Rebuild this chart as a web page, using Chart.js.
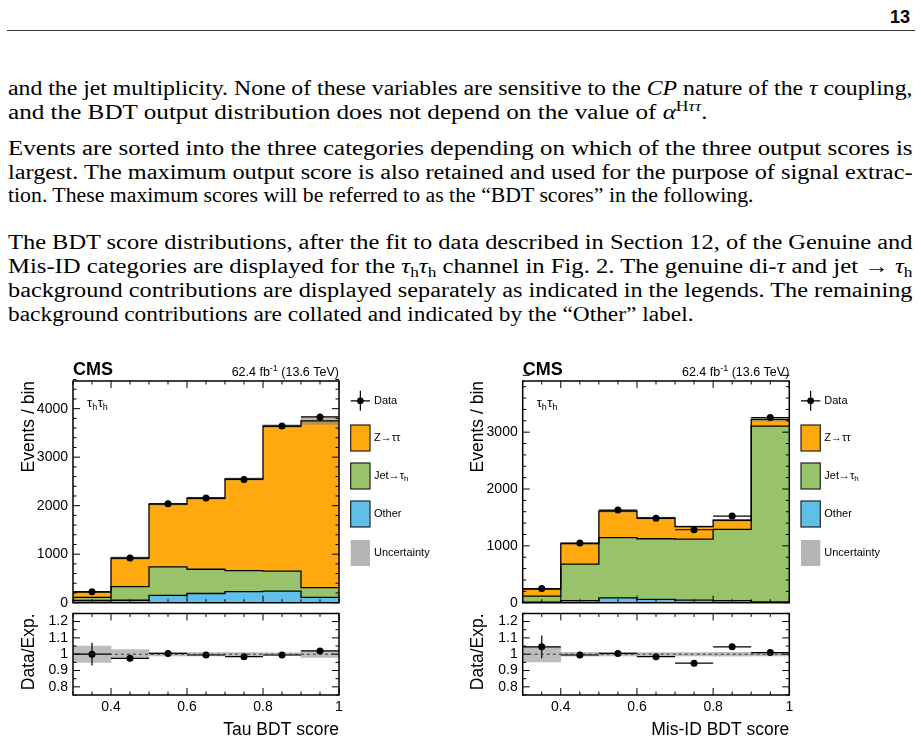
<!DOCTYPE html>
<html>
<head>
<meta charset="utf-8">
<script src="https://cdn.jsdelivr.net/npm/chart.js@4.4.1/dist/chart.umd.min.js"></script>
<style>
  html, body { margin: 0; padding: 0; background: #fff; }
  #page { position: relative; width: 921px; height: 742px; overflow: hidden; background: #fff; }
  .ln { position: absolute; left: 7.5px; font: 20px/24px "Liberation Serif", serif; color: #000; white-space: nowrap; transform-origin: 0 0; }
  .sb { font-size: 14px; position: relative; top: 4px; font-style: normal; }
  .sp { font-size: 14px; position: relative; top: -8px; }
  #pno { position: absolute; right: 11px; top: 7.8px; font: bold 18px/18px "Liberation Sans", sans-serif; }
  #rule { position: absolute; left: 7px; top: 30px; width: 908px; height: 0; border-top: 1.3px solid #333; }
  canvas { position: absolute; }
</style>
</head>
<body>
<div id="page">
  <div id="pno">13</div>
  <div id="rule"></div>

  <div class="ln" data-w="904.5" style="top:76.2px"><span>and the jet multiplicity. None of these variables are sensitive to the <i>CP</i> nature of the <i>τ</i> coupling,</span></div>
  <div class="ln" data-w="699.5" style="top:100.2px"><span>and the BDT output distribution does not depend on the value of <i>α</i><span class="sp">H<i>ττ</i></span>.</span></div>

  <div class="ln" data-w="904.5" style="top:136.2px"><span>Events are sorted into the three categories depending on which of the three output scores is</span></div>
  <div class="ln" data-w="904.5" style="top:159.7px"><span>largest. The maximum output score is also retained and used for the purpose of signal extrac-</span></div>
  <div class="ln" data-w="745.5" style="top:183.2px"><span>tion. These maximum scores will be referred to as the “BDT scores” in the following.</span></div>

  <div class="ln" data-w="904.5" style="top:230.2px"><span>The BDT score distributions, after the fit to data described in Section 12, of the Genuine and</span></div>
  <div class="ln" data-w="904.5" style="top:254.2px"><span>Mis-ID categories are displayed for the <i>τ</i><span class="sb">h</span><i>τ</i><span class="sb">h</span> channel in Fig. 2. The genuine di-<i>τ</i> and jet → <i>τ</i><span class="sb">h</span></span></div>
  <div class="ln" data-w="904.5" style="top:278.2px"><span>background contributions are displayed separately as indicated in the legends. The remaining</span></div>
  <div class="ln" data-w="685.5" style="top:301.7px"><span>background contributions are collated and indicated by the “Other” label.</span></div>

  <canvas id="tauMain" width="460" height="280" style="left:0px;top:350px"></canvas>
  <canvas id="tauRatio" width="460" height="142" style="left:0px;top:600px"></canvas>
  <canvas id="misMain" width="461" height="280" style="left:460px;top:350px"></canvas>
  <canvas id="misRatio" width="461" height="142" style="left:460px;top:600px"></canvas>
</div>

<script>
// ---- data ----
const bdtEdges = [0.3, 0.4, 0.5, 0.6, 0.7, 0.8, 0.9, 1.0];
const xTickVals = [0.4, 0.6, 0.8, 1.0];

// Genuine category, Tau BDT score
const tauOther = [45, 50, 150, 190, 230, 240, 110];
const tauJet   = [65, 280, 590, 500, 430, 410, 200];
const tauZtt   = [115, 590, 1290, 1460, 1890, 2990, 3440];
const tauData  = [225, 920, 2040, 2160, 2540, 3640, 3830];
const tauUnc   = [0.05, 0.028, 0.01, 0.01, 0.01, 0.008, 0.02];
const tauRatio = [1.0, 0.975, 1.005, 0.995, 0.985, 0.995, 1.02];
const tauRatioErr = [0.07, 0.02, 0.01, 0.01, 0.01, 0.01, 0.01];
const tauYTicks = [0, 1000, 2000, 3000, 4000];

// Mis-ID category, Mis-ID BDT score
const misOther = [10, 35, 85, 60, 45, 35, 15];
const misJet   = [105, 645, 1060, 1065, 1075, 1255, 3090];
const misZtt   = [125, 360, 465, 365, 220, 160, 120];
const misData  = [250, 1050, 1630, 1485, 1283, 1524, 3258];
const misUnc   = [0.048, 0.012, 0.01, 0.01, 0.01, 0.012, 0.01];
const misRatio = [1.045, 0.995, 1.005, 0.985, 0.945, 1.045, 1.01];
const misRatioErr = [0.07, 0.02, 0.015, 0.015, 0.01, 0.015, 0.01];
const misYTicks = [0, 1000, 2000, 3000];

const ratioYTicks = [0.8, 0.9, 1.0, 1.1, 1.2];
const legendLabels = ['Data', 'Z→ττ', 'Jet→τ_h', 'Other', 'Uncertainty'];

const colZtt = '#ffa90e';
const colJet = '#99c36b';
const colOther = '#5fbfe9';
const colUnc = '#b5b5b5';

// stretch each text line to its width in the page
document.querySelectorAll('.ln').forEach(el => {
  const nat = el.firstElementChild.getBoundingClientRect().width;
  const w = parseFloat(el.dataset.w);
  el.style.transform = 'scaleX(' + (w / nat) + ')';
});

Chart.defaults.font.family = '"Liberation Sans", Arial, sans-serif';
Chart.defaults.color = '#000';

function centers(edges) {
  return edges.slice(0, -1).map((e, i) => (e + edges[i + 1]) / 2);
}
const binCenters = centers(bdtEdges);

// step histogram points: one per bin edge, last edge repeats last bin
function steps(vals) {
  return bdtEdges.map((e, i) => ({ x: e, y: vals[Math.min(i, vals.length - 1)] }));
}

function fmt(v) { return String(+v.toFixed(1)); }

// frame, inward ticks on all sides, axis titles
function decor(cfg) {
  return {
    id: 'decor',
    afterDatasetsDraw(chart) {
      const ctx = chart.ctx;
      const a = chart.chartArea;
      const xs = chart.scales.x, ys = chart.scales.y;
      const L = a.left, R = a.right, T = a.top, B = a.bottom;
      ctx.save();
      ctx.globalAlpha = 1;
      ctx.setLineDash([]);
      ctx.strokeStyle = '#000000';
      ctx.lineWidth = 1;
      ctx.beginPath();
      for (let k = 0; k <= 14; k++) {
        const v = 0.3 + k * 0.05;
        const px = xs.getPixelForValue(v);
        const major = xTickVals.some(t => Math.abs(t - v) < 1e-6);
        const len = major ? 7 : 3.5;
        ctx.moveTo(px, B); ctx.lineTo(px, B - len);
        ctx.moveTo(px, T); ctx.lineTo(px, T + len);
      }
      const nMin = Math.round((cfg.yEnd - cfg.yStart) / cfg.yMinor);
      for (let k = 0; k <= nMin; k++) {
        const v = cfg.yStart + k * cfg.yMinor;
        const py = ys.getPixelForValue(v);
        const r = v / cfg.yMajor;
        const major = Math.abs(r - Math.round(r)) < 1e-6;
        const len = major ? 7 : 3.5;
        ctx.moveTo(L, py); ctx.lineTo(L + len, py);
        ctx.moveTo(R, py); ctx.lineTo(R - len, py);
      }
      ctx.stroke();
      if (cfg.dashAtOne) {
        const py = ys.getPixelForValue(1);
        ctx.strokeStyle = '#333';
        ctx.setLineDash([3, 3]);
        ctx.beginPath();
        ctx.moveTo(L, py); ctx.lineTo(R, py);
        ctx.stroke();
        ctx.setLineDash([]);
      }
      ctx.strokeStyle = '#000000';
      ctx.lineWidth = 1.5;
      ctx.beginPath();
      ctx.moveTo(L, T); ctx.lineTo(R, T); ctx.lineTo(R, B); ctx.lineTo(L, B); ctx.closePath();
      ctx.stroke();
      ctx.restore();
    },
    afterDraw(chart) {
      const ctx = chart.ctx;
      const a = chart.chartArea;
      ctx.save();
      ctx.fillStyle = '#000';
      ctx.font = '17.5px "Liberation Sans"';
      ctx.save();
      ctx.translate(a.left - 39.5, a.top);
      ctx.rotate(-Math.PI / 2);
      ctx.textAlign = 'right';
      ctx.textBaseline = 'alphabetic';
      ctx.fillText(cfg.yTitle, 0, 0);
      ctx.restore();
      if (cfg.xTitle) {
        ctx.textAlign = 'right';
        ctx.textBaseline = 'alphabetic';
        ctx.fillText(cfg.xTitle, a.right, a.bottom + 40);
      }
      ctx.restore();
    }
  };
}

// data bin-width bars and vertical error bars
function errBars(vals, errs) {
  return {
    id: 'errbars',
    afterDatasetsDraw(chart) {
      const { ctx } = chart;
      const xs = chart.scales.x, ys = chart.scales.y;
      ctx.save();
      ctx.strokeStyle = '#000';
      ctx.lineWidth = 1.2;
      ctx.beginPath();
      vals.forEach((v, i) => {
        const py = ys.getPixelForValue(v);
        ctx.moveTo(xs.getPixelForValue(bdtEdges[i]), py);
        ctx.lineTo(xs.getPixelForValue(bdtEdges[i + 1]), py);
        if (errs) {
          const px = xs.getPixelForValue(binCenters[i]);
          ctx.moveTo(px, ys.getPixelForValue(v - errs[i]));
          ctx.lineTo(px, ys.getPixelForValue(v + errs[i]));
        }
      });
      ctx.stroke();
      ctx.restore();
    }
  };
}

function drawSubText(ctx, text, x, y, size) {
  // "A_h" -> A with subscript h
  const parts = text.split('_');
  ctx.font = size + 'px "Liberation Sans"';
  ctx.fillText(parts[0], x, y);
  if (parts[1]) {
    const w = ctx.measureText(parts[0]).width;
    ctx.font = Math.round(size * 0.7) + 'px "Liberation Sans"';
    ctx.fillText(parts[1], x + w, y + size * 0.28);
  }
}

// CMS label, lumi, channel label and legend
function header() {
  return {
    id: 'header',
    afterDraw(chart) {
      const { ctx, chartArea: a } = chart;
      ctx.save();
      ctx.fillStyle = '#000';
      ctx.textBaseline = 'alphabetic';
      ctx.textAlign = 'left';
      ctx.font = 'bold 18px "Liberation Sans"';
      ctx.fillText('CMS', a.left, a.top - 6);

      const l1 = '62.4 fb', l2 = '-1', l3 = ' (13.6 TeV)';
      ctx.font = '12.5px "Liberation Sans"';
      const w1 = ctx.measureText(l1).width, w3 = ctx.measureText(l3).width;
      ctx.font = '9px "Liberation Sans"';
      const w2 = ctx.measureText(l2).width;
      let x0 = a.right - (w1 + w2 + w3);
      ctx.font = '12.5px "Liberation Sans"';
      ctx.fillText(l1, x0, a.top - 5);
      ctx.font = '9px "Liberation Sans"';
      ctx.fillText(l2, x0 + w1, a.top - 10);
      ctx.font = '12.5px "Liberation Sans"';
      ctx.fillText(l3, x0 + w1 + w2, a.top - 5);

      // channel
      let cx = a.left + 14;
      const cy = a.top + 25.5;
      for (let k = 0; k < 2; k++) {
        ctx.font = '13px "Liberation Sans"';
        ctx.fillText('τ', cx, cy);
        cx += ctx.measureText('τ').width;
        ctx.font = '9px "Liberation Sans"';
        ctx.fillText('h', cx, cy + 3);
        cx += ctx.measureText('h').width + 0.5;
      }

      // legend
      const bx = a.right + 11.7, bw = 19.3, bh = 26;
      const dcx = bx + bw / 2, dcy = a.top + 19.8;
      ctx.strokeStyle = '#000';
      ctx.lineWidth = 1.2;
      ctx.beginPath();
      ctx.moveTo(bx, dcy); ctx.lineTo(bx + bw, dcy);
      ctx.moveTo(dcx, dcy - 10); ctx.lineTo(dcx, dcy + 10);
      ctx.stroke();
      ctx.beginPath();
      ctx.arc(dcx, dcy, 3.4, 0, Math.PI * 2);
      ctx.fill();
      const tops = [44, 82, 120, 159];
      const fills = [colZtt, colJet, colOther, colUnc];
      tops.forEach((t, i) => {
        ctx.fillStyle = fills[i];
        ctx.fillRect(bx, a.top + t, bw, bh);
        if (i < 3) {
          ctx.lineWidth = 1.2;
          ctx.strokeStyle = '#222';
          ctx.strokeRect(bx, a.top + t, bw, bh);
        }
      });
      ctx.fillStyle = '#000';
      ctx.textBaseline = 'middle';
      const ys = [19.5].concat(tops.map(t => t + bh / 2));
      legendLabels.forEach((lab, i) => {
        drawSubText(ctx, lab, a.right + 35, a.top + ys[i], 11);
      });
      ctx.restore();
    }
  };
}

function mainChart(id, other, jet, ztt, data, unc, yMax, yTicks, yWidth, padRight) {
  const c1 = other;
  const c2 = other.map((v, i) => v + jet[i]);
  const c3 = c2.map((v, i) => v + ztt[i]);
  const line = { type: 'line', stepped: 'before', pointRadius: 0, borderColor: '#000', borderWidth: 1.3, order: 5 };
  new Chart(document.getElementById(id), {
    type: 'line',
    data: {
      datasets: [
        { ...line, data: steps(c1), backgroundColor: colOther, fill: 'origin' },
        { ...line, data: steps(c2), backgroundColor: colJet, fill: '-1' },
        { ...line, data: steps(c3), backgroundColor: colZtt, fill: '-1' },
        {
          type: 'bar', order: 8,
          data: binCenters.map((x, i) => ({ x: x, y: [c3[i] * (1 - unc[i]), c3[i] * (1 + unc[i])] })),
          backgroundColor: 'rgba(128,128,128,0.55)', borderWidth: 0,
          barPercentage: 1, categoryPercentage: 1
        },
        {
          type: 'line', order: 0, showLine: false,
          data: binCenters.map((x, i) => ({ x: x, y: data[i] })),
          pointRadius: 3.5, pointBackgroundColor: '#000', pointBorderWidth: 0
        }
      ]
    },
    options: {
      responsive: false, animation: false, events: [],
      layout: { padding: { left: 0, right: padRight, top: 31, bottom: 27.3 } },
      plugins: {
        legend: { display: false }, tooltip: { enabled: false },
        filler: { drawTime: 'beforeDatasetsDraw' }
      },
      scales: {
        x: { type: 'linear', min: 0.3, max: 1.0, offset: false, display: false },
        y: {
          type: 'linear', min: 0, max: yMax,
          afterBuildTicks: s => { s.ticks = yTicks.map(v => ({ value: v })); },
          afterFit: s => { s.width = yWidth; },
          grid: { display: false, drawTicks: false }, border: { display: false },
          ticks: { font: { size: 14 }, color: '#000', padding: 5, callback: v => String(v) }
        }
      }
    },
    plugins: [errBars(data, null), decor({ yTitle: 'Events / bin', yStart: 0, yEnd: yMax, yMinor: 200, yMajor: 1000 }), header()]
  });
}

function ratioChart(id, ratio, err, unc, yWidth, padRight, xTitle) {
  new Chart(document.getElementById(id), {
    type: 'line',
    data: {
      datasets: [
        {
          type: 'bar', order: 8,
          data: binCenters.map((x, i) => ({ x: x, y: [1 - unc[i], 1 + unc[i]] })),
          backgroundColor: '#bdbdbd', borderWidth: 0,
          barPercentage: 1, categoryPercentage: 1
        },
        {
          type: 'line', order: 0, showLine: false,
          data: binCenters.map((x, i) => ({ x: x, y: ratio[i] })),
          pointRadius: 3.5, pointBackgroundColor: '#000', pointBorderWidth: 0
        }
      ]
    },
    options: {
      responsive: false, animation: false, events: [],
      layout: { padding: { left: 0, right: padRight, top: 10.7, bottom: 0 } },
      plugins: { legend: { display: false }, tooltip: { enabled: false } },
      scales: {
        x: {
          type: 'linear', min: 0.3, max: 1.0, offset: false,
          afterBuildTicks: s => { s.ticks = xTickVals.map(v => ({ value: v })); },
          afterFit: s => { s.height = 47; },
          grid: { display: false, drawTicks: false, offset: false }, border: { display: false },
          ticks: { font: { size: 14 }, color: '#000', padding: 4, maxRotation: 0, callback: v => fmt(v) }
        },
        y: {
          type: 'linear', min: 0.75, max: 1.25,
          afterBuildTicks: s => { s.ticks = ratioYTicks.map(v => ({ value: v })); },
          afterFit: s => { s.width = yWidth; },
          grid: { display: false, drawTicks: false }, border: { display: false },
          ticks: { font: { size: 14 }, color: '#000', padding: 5, callback: v => fmt(v) }
        }
      }
    },
    plugins: [errBars(ratio, err), decor({ yTitle: 'Data/Exp.', xTitle: xTitle, yStart: 0.75, yEnd: 1.25, yMinor: 0.05, yMajor: 0.1, dashAtOne: true })]
  });
}

mainChart('tauMain', tauOther, tauJet, tauZtt, tauData, tauUnc, 4570, tauYTicks, 73, 121);
ratioChart('tauRatio', tauRatio, tauRatioErr, tauUnc, 73, 121, 'Tau BDT score');
mainChart('misMain', misOther, misJet, misZtt, misData, misUnc, 3900, misYTicks, 62.7, 131.7);
ratioChart('misRatio', misRatio, misRatioErr, misUnc, 62.7, 131.7, 'Mis-ID BDT score');
</script>
</body>
</html>
